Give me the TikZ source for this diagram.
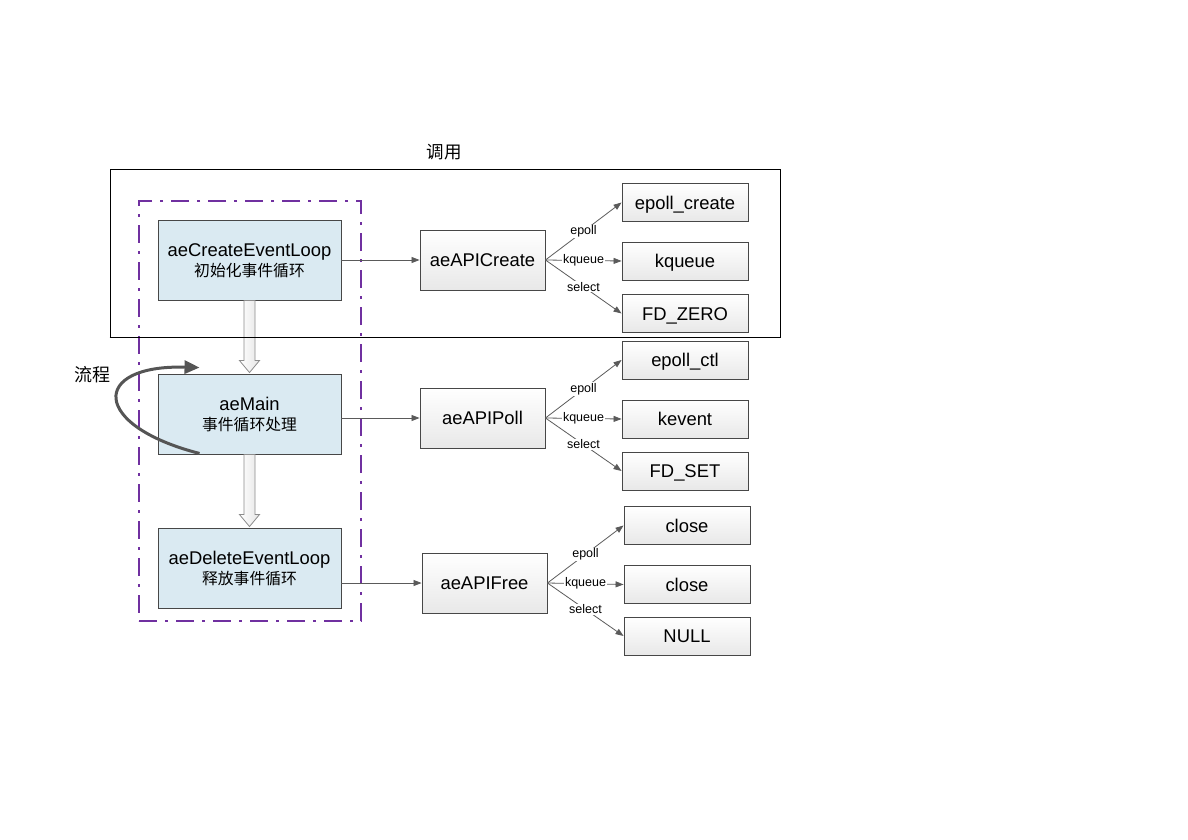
\documentclass[tikz,border=0pt]{standalone}
\usepackage{fontspec}
\setmainfont{Liberation Sans}
\newfontfamily\cjk{Noto Sans CJK SC}
\usetikzlibrary{arrows.meta,calc}
\definecolor{lblue}{HTML}{DAEAF2}
\definecolor{boxline}{HTML}{474747}
\definecolor{conn}{HTML}{5A5A5A}
\definecolor{purp}{HTML}{7030A0}
\definecolor{flowc}{HTML}{555555}
\begin{document}
\begin{tikzpicture}[x=1pt,y=-1pt,
  mainbox/.style={draw=boxline, line width=0.9pt, fill=lblue, minimum width=183pt, minimum height=80pt, inner sep=0pt, align=center, text depth=0pt, font=\fontsize{18.4}{20}\selectfont},
  apibox/.style={draw=boxline, line width=0.9pt, top color=white, bottom color=black!9, minimum width=125pt, minimum height=60pt, inner sep=0pt, text height=13.2pt, text depth=0pt, font=\fontsize{18.4}{20}\selectfont},
  leaf/.style={draw=boxline, line width=0.9pt, top color=white, bottom color=black!9, minimum width=126pt, minimum height=38pt, inner sep=0pt, text height=13.2pt, text depth=0pt, font=\fontsize{18.4}{20}\selectfont},
  conn/.style={draw=conn, line width=0.8pt, -{Triangle[length=8pt,width=6pt]}},
  lbl/.style={font=\fontsize{12.5}{14}\selectfont, fill=white, inner sep=0.8pt, text=black},
  hollow/.style={draw=black!45, line width=0.8pt, left color=white, right color=black!10},
  flow/.style={draw=flowc, line width=3pt, -{Triangle[length=15pt,width=13pt]}},
]
\useasboundingbox (0,0) rectangle (1188,840);

% outer call frame
\node[draw=black, line width=0.9pt, minimum width=670pt, minimum height=168pt, inner sep=0pt] (frame) at (445,253) {};
\node[font=\cjk\fontsize{17.5}{20}\selectfont] (calltxt) at (444,152) {调用};

% left column
\node[mainbox] (create) at (249.5,260) {aeCreateEventLoop\\{\cjk\fontsize{15.8}{20}\selectfont 初始化事件循环}};
\node[mainbox] (main) at (249.5,414) {aeMain\\{\cjk\fontsize{15.8}{20}\selectfont 事件循环处理}};
\node[mainbox] (del) at (249.5,568) {aeDeleteEventLoop\\{\cjk\fontsize{15.8}{20}\selectfont 释放事件循环}};

% purple group
\node[draw=purp, line width=2pt, dash pattern=on 18pt off 8pt on 3pt off 8pt, minimum width=222pt, minimum height=420pt, inner sep=0pt] (group) at (250,411) {};

% hollow arrows
\foreach \a/\b in {create/main, main/del}{
  \draw[hollow] ([xshift=-5.5pt]\a.south) -- ([xshift=-5.5pt,yshift=13pt]\b.north) -- ([xshift=-10pt,yshift=13pt]\b.north) -- ([yshift=1pt]\b.north) -- ([xshift=10pt,yshift=13pt]\b.north) -- ([xshift=5.5pt,yshift=13pt]\b.north) -- ([xshift=5.5pt]\a.south) -- cycle;
}
\draw[black, line width=0.9pt] (frame.south west) -- (frame.south east);

% flow loop
\node[font=\cjk\fontsize{18}{20}\selectfont] (flowtxt) at (92,375) {流程};
\draw[flow] ([xshift=42pt,yshift=1pt]main.south west) .. controls ([xshift=-67pt,yshift=29pt]main.south west) and ([xshift=-67pt,yshift=9pt]main.north west) .. ([xshift=42pt,yshift=6pt]main.north west);

% API boxes
\node[apibox] (apic) at (482.5,260) {aeAPICreate};
\node[apibox] (apip) at (482.5,418) {aeAPIPoll};
\node[apibox] (apif) at (484.5,583) {aeAPIFree};

\draw[conn] (create.east |- apic.west) -- (apic.west);
\draw[conn] (main.east |- apip.west) -- (apip.west);
\draw[conn] (del.east |- apif.west) -- (apif.west);

% leaves
\node[leaf] (c1) at (685,202.5) {epoll\_create};
\node[leaf] (c2) at (685,261) {kqueue};
\node[leaf] (c3) at (685,313.5) {FD\_ZERO};
\node[leaf] (p1) at (685,360) {epoll\_ctl};
\node[leaf] (p2) at (685,419) {kevent};
\node[leaf] (p3) at (685,471) {FD\_SET};
\node[leaf] (f1) at (687,525.5) {close};
\node[leaf] (f2) at (687,584.5) {close};
\node[leaf] (f3) at (687,636) {NULL};

\foreach \s/\x/\y/\z in {apic/c1/c2/c3, apip/p1/p2/p3, apif/f1/f2/f3}{
  \draw[conn] (\s.east) -- node[lbl] {epoll} (\x.west);
  \draw[conn] (\s.east) -- node[lbl] {kqueue} (\y.west);
  \draw[conn] (\s.east) -- node[lbl] {select} (\z.west);
}
\end{tikzpicture}
\end{document}
